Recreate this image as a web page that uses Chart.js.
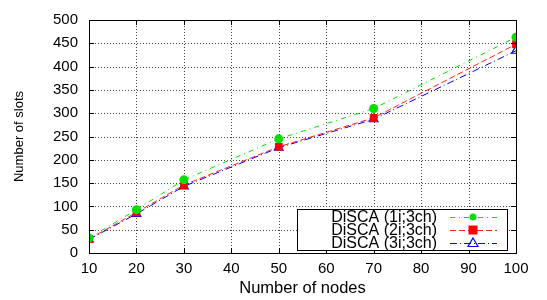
<!DOCTYPE html>
<html><head><meta charset="utf-8">
<script src="https://cdn.jsdelivr.net/npm/chart.js@4/dist/chart.umd.min.js"></script>
<style>html,body{margin:0;padding:0;background:#fff}#c{display:block}</style>
</head><body>
<canvas id="c" width="547" height="300"></canvas>
<script>
const nodes = [10, 20, 30, 50, 70, 100];
const disca1 = [32, 93, 157, 245, 310, 463];
const disca2 = [30, 87, 146, 228, 290, 448];
const disca3 = [29, 84, 143, 226, 287, 434];
const seriesLabels = ['DiSCA (1i;3ch)', 'DiSCA (2i;3ch)', 'DiSCA (3i;3ch)'];
const xTicks = [10, 20, 30, 40, 50, 60, 70, 80, 90, 100];
const yTicks = [0, 50, 100, 150, 200, 250, 300, 350, 400, 450, 500];

const FONT = 'Liberation Sans, Arial, Helvetica, sans-serif';
const pts = arr => arr.map((v, i) => ({x: nodes[i], y: v}));

const gridPlugin = {
  id: 'dotgrid',
  beforeDatasetsDraw(chart) {
    const {ctx, chartArea: a} = chart;
    const xs = chart.scales.x, ys = chart.scales.y;
    ctx.save();
    ctx.strokeStyle = '#444';
    ctx.lineWidth = 1;
    ctx.setLineDash([1, 2]);
    ctx.beginPath();
    xTicks.slice(1, -1).forEach(t => {
      const px = Math.round(xs.getPixelForValue(t)) + 0.5;
      ctx.moveTo(px, a.top); ctx.lineTo(px, a.bottom);
    });
    yTicks.slice(1, -1).forEach(t => {
      const py = Math.round(ys.getPixelForValue(t)) + 0.5;
      ctx.moveTo(a.left, py); ctx.lineTo(a.right, py);
    });
    ctx.stroke();
    ctx.restore();
  }
};

const frame = {
  id: 'frame',
  afterDraw(chart) {
    const {ctx, chartArea: a} = chart;
    ctx.save();
    ctx.strokeStyle = '#000';
    ctx.lineWidth = 1;
    ctx.setLineDash([]);
    ctx.strokeRect(Math.round(a.left) + 0.5, Math.round(a.top) + 0.5, Math.round(a.right - a.left), Math.round(a.bottom - a.top));
    const xs = chart.scales.x, ys = chart.scales.y;
    ctx.beginPath();
    xTicks.forEach(t => {
      const px = Math.round(xs.getPixelForValue(t)) + 0.5;
      ctx.moveTo(px, a.bottom); ctx.lineTo(px, a.bottom - 5);
      ctx.moveTo(px, a.top); ctx.lineTo(px, a.top + 5);
    });
    yTicks.forEach(t => {
      const py = Math.round(ys.getPixelForValue(t)) + 0.5;
      ctx.moveTo(a.left, py); ctx.lineTo(a.left + 5, py);
      ctx.moveTo(a.right, py); ctx.lineTo(a.right - 5, py);
    });
    ctx.stroke();
    // legend box
    const bx = 297, by = 209, bw = 210, bh = 41;
    ctx.fillStyle = '#fff';
    ctx.fillRect(bx, by, bw, bh);
    ctx.strokeRect(bx + 0.5, by + 0.5, bw, bh);
    ctx.font = '16px ' + FONT;
    ctx.textAlign = 'right';
    ctx.textBaseline = 'middle';
    chart.data.datasets.forEach((ds, i) => {
      const y = by + 8 + i * 13;
      ctx.fillStyle = '#000';
      ctx.fillText(ds.label, 437, y + 1);
      ctx.strokeStyle = ds.borderColor;
      ctx.lineWidth = 1;
      ctx.setLineDash(ds.borderDash);
      ctx.beginPath();
      ctx.moveTo(450, y + 0.5); ctx.lineTo(497, y + 0.5);
      ctx.stroke();
      ctx.setLineDash([]);
      const cx = 473;
      ctx.fillStyle = ds.pointBackgroundColor;
      ctx.strokeStyle = ds.pointBorderColor;
      if (ds.pointStyle === 'circle') {
        ctx.beginPath(); ctx.arc(cx, y, 3.5, 0, Math.PI * 2); ctx.fill();
      } else if (ds.pointStyle === 'rect') {
        ctx.fillRect(cx - 4.5, y - 4.5, 9, 9);
      } else {
        ctx.lineWidth = 1.2;
        ctx.beginPath(); ctx.moveTo(cx, y - 5); ctx.lineTo(cx + 5, y + 3.5); ctx.lineTo(cx - 5, y + 3.5); ctx.closePath(); ctx.stroke();
      }
      ctx.strokeStyle = '#000';
    });
    ctx.restore();
  }
};

new Chart(document.getElementById('c'), {
  type: 'line',
  data: {
    datasets: [
      {label: seriesLabels[0], data: pts(disca1), borderColor: '#00e000', borderWidth: 1, borderDash: [5, 4, 1, 4],
       pointStyle: 'circle', pointRadius: 4.5, pointBackgroundColor: '#00e000', pointBorderColor: '#00e000', pointBorderWidth: 0, tension: 0},
      {label: seriesLabels[1], data: pts(disca2), borderColor: '#ff2020', borderWidth: 1, borderDash: [6, 3],
       pointStyle: 'rect', pointRadius: 5.5, pointBackgroundColor: '#ff0000', pointBorderColor: '#ff0000', pointBorderWidth: 0, tension: 0},
      {label: seriesLabels[2], data: pts(disca3), borderColor: '#0000ff', borderWidth: 1, borderDash: [7, 3, 1, 3],
       pointStyle: 'triangle', pointRadius: 5, pointBackgroundColor: 'rgba(0,0,0,0)', pointBorderColor: '#0000ff', pointBorderWidth: 1.2, tension: 0}
    ]
  },
  options: {
    responsive: false,
    animation: false,
    events: [],
    layout: {padding: {left: 0, right: 31, top: 5, bottom: 0}},
    plugins: {legend: {display: false}, tooltip: {enabled: false}},
    scales: {
      x: {
        type: 'linear', min: 10, max: 100,
        afterBuildTicks: s => { s.ticks = xTicks.map(v => ({value: v})); },
        afterFit: s => { s.height = 47; },
        ticks: {color: '#000', font: {family: FONT, size: 15}, padding: 7, maxRotation: 0},
        grid: {display: false, drawTicks: false, tickLength: 0},
        border: {display: false},
        title: {display: true, text: 'Number of nodes', color: '#000', font: {family: FONT, size: 16.5}, padding: {top: 0, bottom: 2}}
      },
      y: {
        min: 0, max: 500,
        afterBuildTicks: s => { s.ticks = yTicks.map(v => ({value: v})); },
        afterFit: s => { s.width = 89; },
        ticks: {color: '#000', font: {family: FONT, size: 15}, padding: 11},
        grid: {display: false, drawTicks: false, tickLength: 0},
        border: {display: false},
        title: {display: true, text: 'Number of slots', color: '#000', font: {family: FONT, size: 13}, padding: {top: 12, bottom: 0}}
      }
    }
  },
  plugins: [gridPlugin, frame]
});
</script>
</body></html>
